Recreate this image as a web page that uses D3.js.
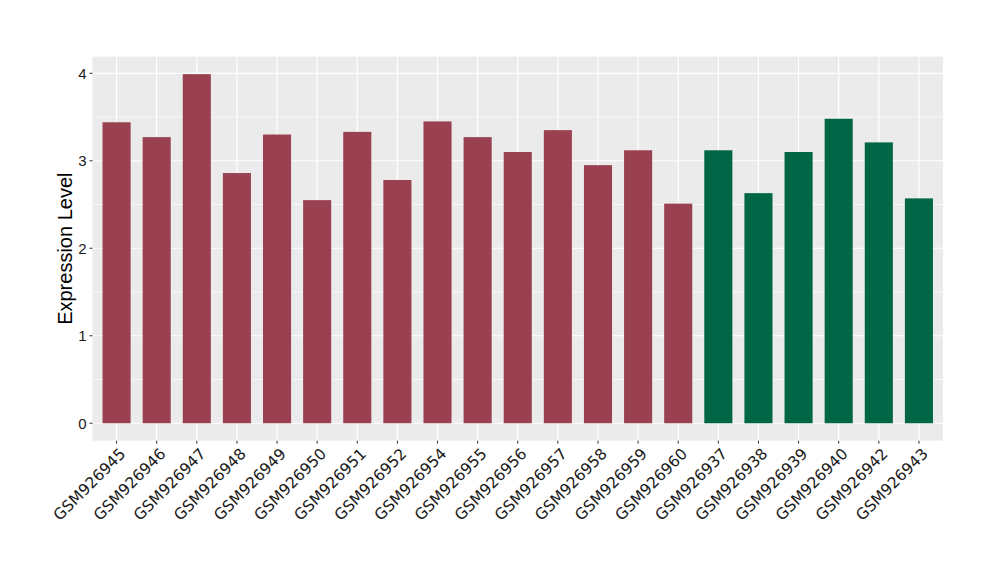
<!DOCTYPE html>
<html><head><meta charset="utf-8">
<script src="https://cdn.jsdelivr.net/npm/d3@7"></script>
<style>body{margin:0;background:#fff}</style>
</head><body>
<svg id="c" width="1000" height="580"></svg>
<script>
const samples = ["GSM926945","GSM926946","GSM926947","GSM926948","GSM926949","GSM926950","GSM926951","GSM926952","GSM926954","GSM926955","GSM926956","GSM926957","GSM926958","GSM926959","GSM926960","GSM926937","GSM926938","GSM926939","GSM926940","GSM926942","GSM926943"];
const values = [3.44,3.27,3.99,2.86,3.30,2.55,3.33,2.78,3.45,3.27,3.10,3.35,2.95,3.12,2.51,3.12,2.63,3.10,3.48,3.21,2.57];
const groups = ["A","A","A","A","A","A","A","A","A","A","A","A","A","A","A","B","B","B","B","B","B"];
const yTicks = [0,1,2,3,4];
const colors = {A:"#994150", B:"#006645"};

const svg = d3.select("#c");
const L=92.5, R=943, T=56.7, B=440.7;
const n = samples.length;
const x = d3.scaleLinear().domain([0.4, n+0.6]).range([L,R]);
const ymax = d3.max(values);
const y = d3.scaleLinear().domain([-0.05*ymax, 1.05*ymax]).range([B,T]);

svg.append("rect").attr("x",L).attr("y",T).attr("width",R-L).attr("height",B-T).attr("fill","#EBEBEB");
const minor = [0.5,1.5,2.5,3.5];
svg.selectAll(".ymin").data(minor).enter().append("line")
  .attr("x1",L).attr("x2",R).attr("y1",d=>y(d)).attr("y2",d=>y(d))
  .attr("stroke","#fff").attr("stroke-width",0.6);
svg.selectAll(".ymaj").data(yTicks).enter().append("line")
  .attr("x1",L).attr("x2",R).attr("y1",d=>y(d)).attr("y2",d=>y(d))
  .attr("stroke","#fff").attr("stroke-width",1.2);
svg.selectAll(".xmaj").data(samples).enter().append("line")
  .attr("x1",(d,i)=>x(i+1)).attr("x2",(d,i)=>x(i+1)).attr("y1",T).attr("y2",B)
  .attr("stroke","#fff").attr("stroke-width",1.2);

const bw = (x(2)-x(1))*0.7;
svg.selectAll(".bar").data(values).enter().append("rect")
  .attr("x",(d,i)=>x(i+1)-bw/2).attr("width",bw)
  .attr("y",d=>y(d)).attr("height",d=>y(0)-y(d))
  .attr("fill",(d,i)=>colors[groups[i]]);

const gy = svg.append("g");
yTicks.forEach(t=>{
  gy.append("line").attr("x1",L-3).attr("x2",L).attr("y1",y(t)).attr("y2",y(t)).attr("stroke","#333").attr("stroke-width",1);
  gy.append("text").attr("x",L-6).attr("y",y(t)).attr("dy","0.36em").attr("text-anchor","end")
    .attr("font-family","Liberation Sans, Arial, sans-serif").attr("font-size",15).attr("fill","#1a1a1a").text(t);
});
const gx = svg.append("g");
samples.forEach((s,i)=>{
  const cx = x(i+1);
  gx.append("line").attr("x1",cx).attr("x2",cx).attr("y1",B).attr("y2",B+3).attr("stroke","#333");
  gx.append("text").attr("transform",`translate(${cx+10},${B+14}) rotate(-45)`)
    .attr("text-anchor","end")
    .attr("font-family","DejaVu Sans, sans-serif").attr("font-size",15.5).attr("fill","#1a1a1a").text(s);
});
svg.append("text").attr("transform",`translate(72,${(T+B)/2}) rotate(-90)`)
  .attr("text-anchor","middle").attr("font-family","Liberation Sans, Arial, sans-serif")
  .attr("font-size",20).attr("fill","#000").text("Expression Level");
</script>
</body></html>
